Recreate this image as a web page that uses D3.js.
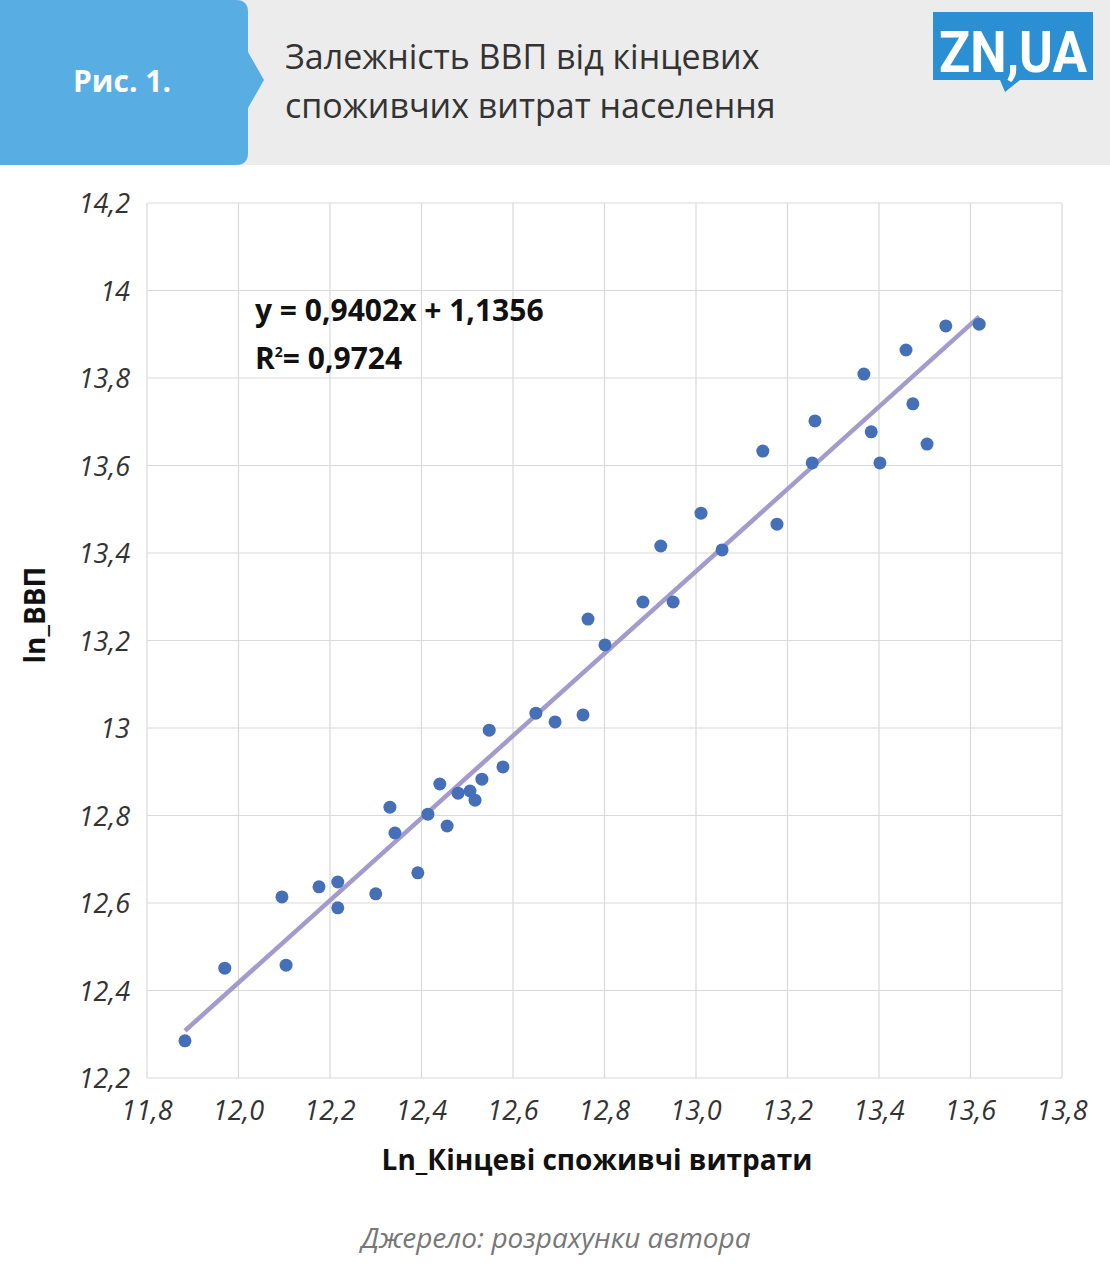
<!DOCTYPE html>
<html><head><meta charset="utf-8">
<script src="https://cdn.jsdelivr.net/npm/d3@7"></script>
<style>body{margin:0;background:#fff;font-family:"Open Sans",Lato,sans-serif;}</style>
</head><body><div id="chart"></div>
<script>
// data
var xVals = [11.883,11.970,12.095,12.104,12.176,12.217,12.217,12.300,12.331,12.342,12.392,12.414,12.440,12.456,12.480,12.506,12.517,12.532,12.548,12.578,12.650,12.692,12.753,12.764,12.801,12.884,12.923,12.950,13.011,13.057,13.146,13.177,13.254,13.260,13.367,13.383,13.402,13.459,13.474,13.505,13.546,13.619];
var yVals = [12.285,12.451,12.614,12.458,12.637,12.648,12.589,12.621,12.819,12.760,12.669,12.803,12.872,12.776,12.851,12.856,12.835,12.883,12.995,12.911,13.034,13.014,13.030,13.249,13.190,13.288,13.416,13.288,13.491,13.407,13.633,13.466,13.606,13.702,13.809,13.677,13.606,13.864,13.741,13.649,13.919,13.923];
var xTicks = [11.8,12.0,12.2,12.4,12.6,12.8,13.0,13.2,13.4,13.6,13.8];
var yTicks = [12.2,12.4,12.6,12.8,13,13.2,13.4,13.6,13.8,14,14.2];
var slope = 0.9402, intercept = 1.1356;

var width = 1110, height = 1280;
var svg = d3.select("#chart").append("svg").attr("width", width).attr("height", height);

// header
svg.append("rect").attr("x",0).attr("y",0).attr("width",width).attr("height",165).attr("fill","#ececec");
svg.append("path").attr("d","M0,0 H236 Q248,0 248,12 V52 L264,80 L248,108 V153 Q248,165 236,165 H0 Z").attr("fill","#58aee3");
svg.append("text").attr("x",122).attr("y",92).attr("text-anchor","middle").attr("fill","#fff")
	.style("font-size","30px").style("font-weight","bold").text("Рис. 1.");
svg.append("text").attr("x",285).attr("y",69).attr("fill","#333").style("font-size","34px").text("Залежність ВВП від кінцевих");
svg.append("text").attr("x",285).attr("y",118).attr("fill","#333").style("font-size","34px").text("споживчих витрат населення");
svg.append("path").attr("d","M933,12 H1093 V80 H1020 L1005,92 L1000,80 H933 Z").attr("fill","#2a8fd3");
svg.append("text").attr("x",1013).attr("y",72).attr("text-anchor","middle").attr("fill","#fff")
	.attr("textLength",148).attr("lengthAdjust","spacingAndGlyphs")
	.style("font-size","58px").style("font-weight","bold").style("font-family","Roboto").text("ZN,UA");

var margin = {top:203, left:147, right:1062, bottom:1078};
var x = d3.scaleLinear().domain([11.8,13.8]).range([margin.left, margin.right]);
var y = d3.scaleLinear().domain([12.2,14.2]).range([margin.bottom, margin.top]);

var grid = svg.append("g");
grid.selectAll(".vx").data(xTicks).enter().append("line")
	.attr("x1",d=>x(d)).attr("x2",d=>x(d)).attr("y1",margin.top).attr("y2",margin.bottom)
	.attr("stroke","#d9d9d9").attr("stroke-width",1.2);
grid.selectAll(".hy").data(yTicks).enter().append("line")
	.attr("y1",d=>y(d)).attr("y2",d=>y(d)).attr("x1",margin.left).attr("x2",margin.right)
	.attr("stroke","#d9d9d9").attr("stroke-width",1.2);

svg.selectAll(".xt").data(xTicks).enter().append("text")
	.attr("x",d=>x(d)).attr("y",margin.bottom+42).attr("text-anchor","middle")
	.attr("fill","#333").style("font-size","27px").style("font-style","italic")
	.text(d=>d3.format(".1f")(d).replace(".",","));
svg.selectAll(".yt").data(yTicks).enter().append("text")
	.attr("x",130).attr("y",d=>y(d)+10).attr("text-anchor","end")
	.attr("fill","#333").style("font-size","27px").style("font-style","italic")
	.text(d=>String(d).replace(".",","));

// trendline
var x0 = d3.min(xVals), x1 = d3.max(xVals);
svg.append("line").attr("x1",x(x0)).attr("y1",y(slope*x0+intercept))
	.attr("x2",x(x1)).attr("y2",y(slope*x1+intercept))
	.attr("stroke","#a39bcb").attr("stroke-width",4.5);

svg.selectAll(".pt").data(d3.zip(xVals,yVals)).enter().append("circle")
	.attr("cx",d=>x(d[0])).attr("cy",d=>y(d[1])).attr("r",6.5).attr("fill","#4570b8");

svg.append("text").attr("x",255).attr("y",321).attr("fill","#111")
	.style("font-size","30px").style("font-weight","bold").text("y = 0,9402x + 1,1356");
var r2 = svg.append("text").attr("x",255).attr("y",369).attr("fill","#111")
	.style("font-size","30px").style("font-weight","bold");
r2.append("tspan").text("R");
r2.append("tspan").attr("dy",-12).style("font-size","14px").text("2");
r2.append("tspan").attr("dy",12).text("= 0,9724");

svg.append("text").attr("x",597).attr("y",1170).attr("text-anchor","middle").attr("fill","#111")
	.style("font-size","28px").style("font-weight","bold").text("Ln_Кінцеві споживчі витрати");
svg.append("text").attr("transform","translate(45,615) rotate(-90)").attr("text-anchor","middle").attr("fill","#111")
	.style("font-size","28px").style("font-weight","bold").text("ln_ВВП");
svg.append("text").attr("x",556).attr("y",1248).attr("text-anchor","middle").attr("fill","#777")
	.style("font-size","28px").style("font-style","italic").text("Джерело: розрахунки автора");
</script></body></html>
